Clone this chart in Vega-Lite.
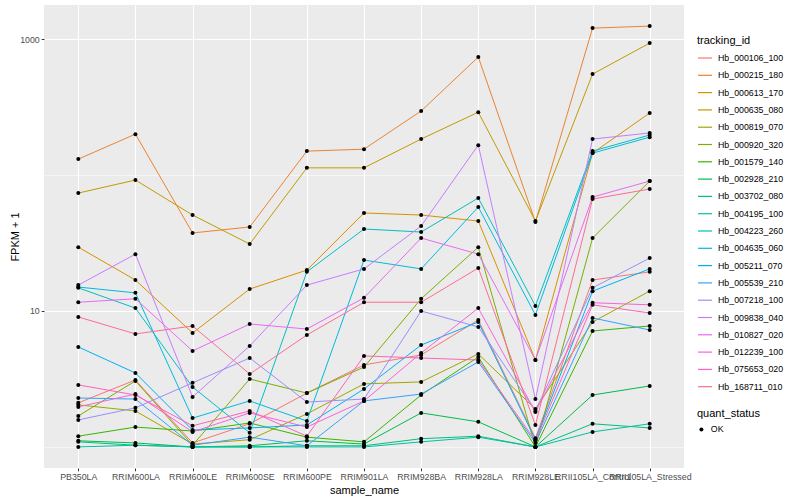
{
"$schema": "https://vega.github.io/schema/vega-lite/v6.json",
"width": 640, "height": 463,
"autosize": {"type": "none"},
"padding": {"left": 44, "top": 5, "right": 116, "bottom": 32},
"background": "white",
"config": {
  "font": "Liberation Sans",
  "view": {"fill": "#EBEBEB", "stroke": null}
},
"data": {"values": [
{"tracking_id":"Hb_000106_100","sample_name":"PB350LA","fpkm_plus_1":2.11,"quant_status":"OK"},
{"tracking_id":"Hb_000106_100","sample_name":"RRIM600LA","fpkm_plus_1":3.11,"quant_status":"OK"},
{"tracking_id":"Hb_000106_100","sample_name":"RRIM600LE","fpkm_plus_1":1.07,"quant_status":"OK"},
{"tracking_id":"Hb_000106_100","sample_name":"RRIM600SE","fpkm_plus_1":1.48,"quant_status":"OK"},
{"tracking_id":"Hb_000106_100","sample_name":"RRIM600PE","fpkm_plus_1":2.49,"quant_status":"OK"},
{"tracking_id":"Hb_000106_100","sample_name":"RRIM901LA","fpkm_plus_1":4.01,"quant_status":"OK"},
{"tracking_id":"Hb_000106_100","sample_name":"RRIM928BA","fpkm_plus_1":4.75,"quant_status":"OK"},
{"tracking_id":"Hb_000106_100","sample_name":"RRIM928LA","fpkm_plus_1":8.59,"quant_status":"OK"},
{"tracking_id":"Hb_000106_100","sample_name":"RRIM928LE","fpkm_plus_1":1.16,"quant_status":"OK"},
{"tracking_id":"Hb_000106_100","sample_name":"RRII105LA_Control","fpkm_plus_1":16.9,"quant_status":"OK"},
{"tracking_id":"Hb_000106_100","sample_name":"RRII105LA_Stressed","fpkm_plus_1":19.4,"quant_status":"OK"},
{"tracking_id":"Hb_000215_180","sample_name":"PB350LA","fpkm_plus_1":131,"quant_status":"OK"},
{"tracking_id":"Hb_000215_180","sample_name":"RRIM600LA","fpkm_plus_1":200,"quant_status":"OK"},
{"tracking_id":"Hb_000215_180","sample_name":"RRIM600LE","fpkm_plus_1":37.5,"quant_status":"OK"},
{"tracking_id":"Hb_000215_180","sample_name":"RRIM600SE","fpkm_plus_1":41.5,"quant_status":"OK"},
{"tracking_id":"Hb_000215_180","sample_name":"RRIM600PE","fpkm_plus_1":150,"quant_status":"OK"},
{"tracking_id":"Hb_000215_180","sample_name":"RRIM901LA","fpkm_plus_1":155,"quant_status":"OK"},
{"tracking_id":"Hb_000215_180","sample_name":"RRIM928BA","fpkm_plus_1":296,"quant_status":"OK"},
{"tracking_id":"Hb_000215_180","sample_name":"RRIM928LA","fpkm_plus_1":738,"quant_status":"OK"},
{"tracking_id":"Hb_000215_180","sample_name":"RRIM928LE","fpkm_plus_1":45.1,"quant_status":"OK"},
{"tracking_id":"Hb_000215_180","sample_name":"RRII105LA_Control","fpkm_plus_1":1205,"quant_status":"OK"},
{"tracking_id":"Hb_000215_180","sample_name":"RRII105LA_Stressed","fpkm_plus_1":1246,"quant_status":"OK"},
{"tracking_id":"Hb_000613_170","sample_name":"PB350LA","fpkm_plus_1":29.5,"quant_status":"OK"},
{"tracking_id":"Hb_000613_170","sample_name":"RRIM600LA","fpkm_plus_1":16.9,"quant_status":"OK"},
{"tracking_id":"Hb_000613_170","sample_name":"RRIM600LE","fpkm_plus_1":6.89,"quant_status":"OK"},
{"tracking_id":"Hb_000613_170","sample_name":"RRIM600SE","fpkm_plus_1":14.5,"quant_status":"OK"},
{"tracking_id":"Hb_000613_170","sample_name":"RRIM600PE","fpkm_plus_1":20.0,"quant_status":"OK"},
{"tracking_id":"Hb_000613_170","sample_name":"RRIM901LA","fpkm_plus_1":52.6,"quant_status":"OK"},
{"tracking_id":"Hb_000613_170","sample_name":"RRIM928BA","fpkm_plus_1":50.8,"quant_status":"OK"},
{"tracking_id":"Hb_000613_170","sample_name":"RRIM928LA","fpkm_plus_1":45.9,"quant_status":"OK"},
{"tracking_id":"Hb_000613_170","sample_name":"RRIM928LE","fpkm_plus_1":4.36,"quant_status":"OK"},
{"tracking_id":"Hb_000613_170","sample_name":"RRII105LA_Control","fpkm_plus_1":145,"quant_status":"OK"},
{"tracking_id":"Hb_000613_170","sample_name":"RRII105LA_Stressed","fpkm_plus_1":286,"quant_status":"OK"},
{"tracking_id":"Hb_000635_080","sample_name":"PB350LA","fpkm_plus_1":73.7,"quant_status":"OK"},
{"tracking_id":"Hb_000635_080","sample_name":"RRIM600LA","fpkm_plus_1":91.9,"quant_status":"OK"},
{"tracking_id":"Hb_000635_080","sample_name":"RRIM600LE","fpkm_plus_1":50.8,"quant_status":"OK"},
{"tracking_id":"Hb_000635_080","sample_name":"RRIM600SE","fpkm_plus_1":31.1,"quant_status":"OK"},
{"tracking_id":"Hb_000635_080","sample_name":"RRIM600PE","fpkm_plus_1":113,"quant_status":"OK"},
{"tracking_id":"Hb_000635_080","sample_name":"RRIM901LA","fpkm_plus_1":113,"quant_status":"OK"},
{"tracking_id":"Hb_000635_080","sample_name":"RRIM928BA","fpkm_plus_1":184,"quant_status":"OK"},
{"tracking_id":"Hb_000635_080","sample_name":"RRIM928LA","fpkm_plus_1":290,"quant_status":"OK"},
{"tracking_id":"Hb_000635_080","sample_name":"RRIM928LE","fpkm_plus_1":45.9,"quant_status":"OK"},
{"tracking_id":"Hb_000635_080","sample_name":"RRII105LA_Control","fpkm_plus_1":553,"quant_status":"OK"},
{"tracking_id":"Hb_000635_080","sample_name":"RRII105LA_Stressed","fpkm_plus_1":935,"quant_status":"OK"},
{"tracking_id":"Hb_000819_070","sample_name":"PB350LA","fpkm_plus_1":2.04,"quant_status":"OK"},
{"tracking_id":"Hb_000819_070","sample_name":"RRIM600LA","fpkm_plus_1":1.84,"quant_status":"OK"},
{"tracking_id":"Hb_000819_070","sample_name":"RRIM600LE","fpkm_plus_1":1.05,"quant_status":"OK"},
{"tracking_id":"Hb_000819_070","sample_name":"RRIM600SE","fpkm_plus_1":1.13,"quant_status":"OK"},
{"tracking_id":"Hb_000819_070","sample_name":"RRIM600PE","fpkm_plus_1":1.75,"quant_status":"OK"},
{"tracking_id":"Hb_000819_070","sample_name":"RRIM901LA","fpkm_plus_1":2.91,"quant_status":"OK"},
{"tracking_id":"Hb_000819_070","sample_name":"RRIM928BA","fpkm_plus_1":3.01,"quant_status":"OK"},
{"tracking_id":"Hb_000819_070","sample_name":"RRIM928LA","fpkm_plus_1":4.83,"quant_status":"OK"},
{"tracking_id":"Hb_000819_070","sample_name":"RRIM928LE","fpkm_plus_1":1.90,"quant_status":"OK"},
{"tracking_id":"Hb_000819_070","sample_name":"RRII105LA_Control","fpkm_plus_1":8.30,"quant_status":"OK"},
{"tracking_id":"Hb_000819_070","sample_name":"RRII105LA_Stressed","fpkm_plus_1":14.0,"quant_status":"OK"},
{"tracking_id":"Hb_000920_320","sample_name":"PB350LA","fpkm_plus_1":1.69,"quant_status":"OK"},
{"tracking_id":"Hb_000920_320","sample_name":"RRIM600LA","fpkm_plus_1":3.06,"quant_status":"OK"},
{"tracking_id":"Hb_000920_320","sample_name":"RRIM600LE","fpkm_plus_1":1.03,"quant_status":"OK"},
{"tracking_id":"Hb_000920_320","sample_name":"RRIM600SE","fpkm_plus_1":3.16,"quant_status":"OK"},
{"tracking_id":"Hb_000920_320","sample_name":"RRIM600PE","fpkm_plus_1":2.49,"quant_status":"OK"},
{"tracking_id":"Hb_000920_320","sample_name":"RRIM901LA","fpkm_plus_1":3.87,"quant_status":"OK"},
{"tracking_id":"Hb_000920_320","sample_name":"RRIM928BA","fpkm_plus_1":12.3,"quant_status":"OK"},
{"tracking_id":"Hb_000920_320","sample_name":"RRIM928LA","fpkm_plus_1":29.5,"quant_status":"OK"},
{"tracking_id":"Hb_000920_320","sample_name":"RRIM928LE","fpkm_plus_1":1.0,"quant_status":"OK"},
{"tracking_id":"Hb_000920_320","sample_name":"RRII105LA_Control","fpkm_plus_1":34.4,"quant_status":"OK"},
{"tracking_id":"Hb_000920_320","sample_name":"RRII105LA_Stressed","fpkm_plus_1":90.3,"quant_status":"OK"},
{"tracking_id":"Hb_001579_140","sample_name":"PB350LA","fpkm_plus_1":1.20,"quant_status":"OK"},
{"tracking_id":"Hb_001579_140","sample_name":"RRIM600LA","fpkm_plus_1":1.40,"quant_status":"OK"},
{"tracking_id":"Hb_001579_140","sample_name":"RRIM600LE","fpkm_plus_1":1.31,"quant_status":"OK"},
{"tracking_id":"Hb_001579_140","sample_name":"RRIM600SE","fpkm_plus_1":1.50,"quant_status":"OK"},
{"tracking_id":"Hb_001579_140","sample_name":"RRIM600PE","fpkm_plus_1":1.18,"quant_status":"OK"},
{"tracking_id":"Hb_001579_140","sample_name":"RRIM901LA","fpkm_plus_1":1.09,"quant_status":"OK"},
{"tracking_id":"Hb_001579_140","sample_name":"RRIM928BA","fpkm_plus_1":2.41,"quant_status":"OK"},
{"tracking_id":"Hb_001579_140","sample_name":"RRIM928LA","fpkm_plus_1":4.59,"quant_status":"OK"},
{"tracking_id":"Hb_001579_140","sample_name":"RRIM928LE","fpkm_plus_1":1.0,"quant_status":"OK"},
{"tracking_id":"Hb_001579_140","sample_name":"RRII105LA_Control","fpkm_plus_1":7.13,"quant_status":"OK"},
{"tracking_id":"Hb_001579_140","sample_name":"RRII105LA_Stressed","fpkm_plus_1":7.76,"quant_status":"OK"},
{"tracking_id":"Hb_002928_210","sample_name":"PB350LA","fpkm_plus_1":1.11,"quant_status":"OK"},
{"tracking_id":"Hb_002928_210","sample_name":"RRIM600LA","fpkm_plus_1":1.07,"quant_status":"OK"},
{"tracking_id":"Hb_002928_210","sample_name":"RRIM600LE","fpkm_plus_1":1.0,"quant_status":"OK"},
{"tracking_id":"Hb_002928_210","sample_name":"RRIM600SE","fpkm_plus_1":1.02,"quant_status":"OK"},
{"tracking_id":"Hb_002928_210","sample_name":"RRIM600PE","fpkm_plus_1":1.11,"quant_status":"OK"},
{"tracking_id":"Hb_002928_210","sample_name":"RRIM901LA","fpkm_plus_1":1.05,"quant_status":"OK"},
{"tracking_id":"Hb_002928_210","sample_name":"RRIM928BA","fpkm_plus_1":1.78,"quant_status":"OK"},
{"tracking_id":"Hb_002928_210","sample_name":"RRIM928LA","fpkm_plus_1":1.53,"quant_status":"OK"},
{"tracking_id":"Hb_002928_210","sample_name":"RRIM928LE","fpkm_plus_1":1.0,"quant_status":"OK"},
{"tracking_id":"Hb_002928_210","sample_name":"RRII105LA_Control","fpkm_plus_1":2.41,"quant_status":"OK"},
{"tracking_id":"Hb_002928_210","sample_name":"RRII105LA_Stressed","fpkm_plus_1":2.81,"quant_status":"OK"},
{"tracking_id":"Hb_003702_080","sample_name":"PB350LA","fpkm_plus_1":1.09,"quant_status":"OK"},
{"tracking_id":"Hb_003702_080","sample_name":"RRIM600LA","fpkm_plus_1":1.03,"quant_status":"OK"},
{"tracking_id":"Hb_003702_080","sample_name":"RRIM600LE","fpkm_plus_1":1.0,"quant_status":"OK"},
{"tracking_id":"Hb_003702_080","sample_name":"RRIM600SE","fpkm_plus_1":1.0,"quant_status":"OK"},
{"tracking_id":"Hb_003702_080","sample_name":"RRIM600PE","fpkm_plus_1":1.02,"quant_status":"OK"},
{"tracking_id":"Hb_003702_080","sample_name":"RRIM901LA","fpkm_plus_1":1.02,"quant_status":"OK"},
{"tracking_id":"Hb_003702_080","sample_name":"RRIM928BA","fpkm_plus_1":1.15,"quant_status":"OK"},
{"tracking_id":"Hb_003702_080","sample_name":"RRIM928LA","fpkm_plus_1":1.20,"quant_status":"OK"},
{"tracking_id":"Hb_003702_080","sample_name":"RRIM928LE","fpkm_plus_1":1.0,"quant_status":"OK"},
{"tracking_id":"Hb_003702_080","sample_name":"RRII105LA_Control","fpkm_plus_1":1.48,"quant_status":"OK"},
{"tracking_id":"Hb_003702_080","sample_name":"RRII105LA_Stressed","fpkm_plus_1":1.38,"quant_status":"OK"},
{"tracking_id":"Hb_004195_100","sample_name":"PB350LA","fpkm_plus_1":1.0,"quant_status":"OK"},
{"tracking_id":"Hb_004195_100","sample_name":"RRIM600LA","fpkm_plus_1":1.03,"quant_status":"OK"},
{"tracking_id":"Hb_004195_100","sample_name":"RRIM600LE","fpkm_plus_1":1.0,"quant_status":"OK"},
{"tracking_id":"Hb_004195_100","sample_name":"RRIM600SE","fpkm_plus_1":1.0,"quant_status":"OK"},
{"tracking_id":"Hb_004195_100","sample_name":"RRIM600PE","fpkm_plus_1":1.0,"quant_status":"OK"},
{"tracking_id":"Hb_004195_100","sample_name":"RRIM901LA","fpkm_plus_1":1.0,"quant_status":"OK"},
{"tracking_id":"Hb_004195_100","sample_name":"RRIM928BA","fpkm_plus_1":1.09,"quant_status":"OK"},
{"tracking_id":"Hb_004195_100","sample_name":"RRIM928LA","fpkm_plus_1":1.18,"quant_status":"OK"},
{"tracking_id":"Hb_004195_100","sample_name":"RRIM928LE","fpkm_plus_1":1.0,"quant_status":"OK"},
{"tracking_id":"Hb_004195_100","sample_name":"RRII105LA_Control","fpkm_plus_1":1.29,"quant_status":"OK"},
{"tracking_id":"Hb_004195_100","sample_name":"RRII105LA_Stressed","fpkm_plus_1":1.48,"quant_status":"OK"},
{"tracking_id":"Hb_004223_260","sample_name":"PB350LA","fpkm_plus_1":14.8,"quant_status":"OK"},
{"tracking_id":"Hb_004223_260","sample_name":"RRIM600LA","fpkm_plus_1":10.5,"quant_status":"OK"},
{"tracking_id":"Hb_004223_260","sample_name":"RRIM600LE","fpkm_plus_1":2.76,"quant_status":"OK"},
{"tracking_id":"Hb_004223_260","sample_name":"RRIM600SE","fpkm_plus_1":1.27,"quant_status":"OK"},
{"tracking_id":"Hb_004223_260","sample_name":"RRIM600PE","fpkm_plus_1":19.4,"quant_status":"OK"},
{"tracking_id":"Hb_004223_260","sample_name":"RRIM901LA","fpkm_plus_1":40.1,"quant_status":"OK"},
{"tracking_id":"Hb_004223_260","sample_name":"RRIM928BA","fpkm_plus_1":38.1,"quant_status":"OK"},
{"tracking_id":"Hb_004223_260","sample_name":"RRIM928LA","fpkm_plus_1":67.8,"quant_status":"OK"},
{"tracking_id":"Hb_004223_260","sample_name":"RRIM928LE","fpkm_plus_1":10.9,"quant_status":"OK"},
{"tracking_id":"Hb_004223_260","sample_name":"RRII105LA_Control","fpkm_plus_1":150,"quant_status":"OK"},
{"tracking_id":"Hb_004223_260","sample_name":"RRII105LA_Stressed","fpkm_plus_1":197,"quant_status":"OK"},
{"tracking_id":"Hb_004635_060","sample_name":"PB350LA","fpkm_plus_1":15.0,"quant_status":"OK"},
{"tracking_id":"Hb_004635_060","sample_name":"RRIM600LA","fpkm_plus_1":13.6,"quant_status":"OK"},
{"tracking_id":"Hb_004635_060","sample_name":"RRIM600LE","fpkm_plus_1":1.63,"quant_status":"OK"},
{"tracking_id":"Hb_004635_060","sample_name":"RRIM600SE","fpkm_plus_1":2.18,"quant_status":"OK"},
{"tracking_id":"Hb_004635_060","sample_name":"RRIM600PE","fpkm_plus_1":1.55,"quant_status":"OK"},
{"tracking_id":"Hb_004635_060","sample_name":"RRIM901LA","fpkm_plus_1":23.7,"quant_status":"OK"},
{"tracking_id":"Hb_004635_060","sample_name":"RRIM928BA","fpkm_plus_1":20.4,"quant_status":"OK"},
{"tracking_id":"Hb_004635_060","sample_name":"RRIM928LA","fpkm_plus_1":58.2,"quant_status":"OK"},
{"tracking_id":"Hb_004635_060","sample_name":"RRIM928LE","fpkm_plus_1":9.35,"quant_status":"OK"},
{"tracking_id":"Hb_004635_060","sample_name":"RRII105LA_Control","fpkm_plus_1":145,"quant_status":"OK"},
{"tracking_id":"Hb_004635_060","sample_name":"RRII105LA_Stressed","fpkm_plus_1":190,"quant_status":"OK"},
{"tracking_id":"Hb_005211_070","sample_name":"PB350LA","fpkm_plus_1":5.44,"quant_status":"OK"},
{"tracking_id":"Hb_005211_070","sample_name":"RRIM600LA","fpkm_plus_1":3.50,"quant_status":"OK"},
{"tracking_id":"Hb_005211_070","sample_name":"RRIM600LE","fpkm_plus_1":1.33,"quant_status":"OK"},
{"tracking_id":"Hb_005211_070","sample_name":"RRIM600SE","fpkm_plus_1":1.38,"quant_status":"OK"},
{"tracking_id":"Hb_005211_070","sample_name":"RRIM600PE","fpkm_plus_1":1.45,"quant_status":"OK"},
{"tracking_id":"Hb_005211_070","sample_name":"RRIM901LA","fpkm_plus_1":2.67,"quant_status":"OK"},
{"tracking_id":"Hb_005211_070","sample_name":"RRIM928BA","fpkm_plus_1":5.62,"quant_status":"OK"},
{"tracking_id":"Hb_005211_070","sample_name":"RRIM928LA","fpkm_plus_1":8.30,"quant_status":"OK"},
{"tracking_id":"Hb_005211_070","sample_name":"RRIM928LE","fpkm_plus_1":1.13,"quant_status":"OK"},
{"tracking_id":"Hb_005211_070","sample_name":"RRII105LA_Control","fpkm_plus_1":14.0,"quant_status":"OK"},
{"tracking_id":"Hb_005211_070","sample_name":"RRII105LA_Stressed","fpkm_plus_1":20.4,"quant_status":"OK"},
{"tracking_id":"Hb_005539_210","sample_name":"PB350LA","fpkm_plus_1":2.29,"quant_status":"OK"},
{"tracking_id":"Hb_005539_210","sample_name":"RRIM600LA","fpkm_plus_1":2.25,"quant_status":"OK"},
{"tracking_id":"Hb_005539_210","sample_name":"RRIM600LE","fpkm_plus_1":1.03,"quant_status":"OK"},
{"tracking_id":"Hb_005539_210","sample_name":"RRIM600SE","fpkm_plus_1":1.18,"quant_status":"OK"},
{"tracking_id":"Hb_005539_210","sample_name":"RRIM600PE","fpkm_plus_1":1.02,"quant_status":"OK"},
{"tracking_id":"Hb_005539_210","sample_name":"RRIM901LA","fpkm_plus_1":2.18,"quant_status":"OK"},
{"tracking_id":"Hb_005539_210","sample_name":"RRIM928BA","fpkm_plus_1":2.45,"quant_status":"OK"},
{"tracking_id":"Hb_005539_210","sample_name":"RRIM928LA","fpkm_plus_1":4.22,"quant_status":"OK"},
{"tracking_id":"Hb_005539_210","sample_name":"RRIM928LE","fpkm_plus_1":1.07,"quant_status":"OK"},
{"tracking_id":"Hb_005539_210","sample_name":"RRII105LA_Control","fpkm_plus_1":8.89,"quant_status":"OK"},
{"tracking_id":"Hb_005539_210","sample_name":"RRII105LA_Stressed","fpkm_plus_1":7.25,"quant_status":"OK"},
{"tracking_id":"Hb_007218_100","sample_name":"PB350LA","fpkm_plus_1":1.58,"quant_status":"OK"},
{"tracking_id":"Hb_007218_100","sample_name":"RRIM600LA","fpkm_plus_1":1.94,"quant_status":"OK"},
{"tracking_id":"Hb_007218_100","sample_name":"RRIM600LE","fpkm_plus_1":2.96,"quant_status":"OK"},
{"tracking_id":"Hb_007218_100","sample_name":"RRIM600SE","fpkm_plus_1":4.51,"quant_status":"OK"},
{"tracking_id":"Hb_007218_100","sample_name":"RRIM600PE","fpkm_plus_1":2.14,"quant_status":"OK"},
{"tracking_id":"Hb_007218_100","sample_name":"RRIM901LA","fpkm_plus_1":2.25,"quant_status":"OK"},
{"tracking_id":"Hb_007218_100","sample_name":"RRIM928BA","fpkm_plus_1":10.0,"quant_status":"OK"},
{"tracking_id":"Hb_007218_100","sample_name":"RRIM928LA","fpkm_plus_1":7.63,"quant_status":"OK"},
{"tracking_id":"Hb_007218_100","sample_name":"RRIM928LE","fpkm_plus_1":1.84,"quant_status":"OK"},
{"tracking_id":"Hb_007218_100","sample_name":"RRII105LA_Control","fpkm_plus_1":14.8,"quant_status":"OK"},
{"tracking_id":"Hb_007218_100","sample_name":"RRII105LA_Stressed","fpkm_plus_1":24.5,"quant_status":"OK"},
{"tracking_id":"Hb_009838_040","sample_name":"PB350LA","fpkm_plus_1":15.5,"quant_status":"OK"},
{"tracking_id":"Hb_009838_040","sample_name":"RRIM600LA","fpkm_plus_1":26.2,"quant_status":"OK"},
{"tracking_id":"Hb_009838_040","sample_name":"RRIM600LE","fpkm_plus_1":2.33,"quant_status":"OK"},
{"tracking_id":"Hb_009838_040","sample_name":"RRIM600SE","fpkm_plus_1":5.53,"quant_status":"OK"},
{"tracking_id":"Hb_009838_040","sample_name":"RRIM600PE","fpkm_plus_1":15.5,"quant_status":"OK"},
{"tracking_id":"Hb_009838_040","sample_name":"RRIM901LA","fpkm_plus_1":20.4,"quant_status":"OK"},
{"tracking_id":"Hb_009838_040","sample_name":"RRIM928BA","fpkm_plus_1":42.2,"quant_status":"OK"},
{"tracking_id":"Hb_009838_040","sample_name":"RRIM928LA","fpkm_plus_1":166,"quant_status":"OK"},
{"tracking_id":"Hb_009838_040","sample_name":"RRIM928LE","fpkm_plus_1":2.25,"quant_status":"OK"},
{"tracking_id":"Hb_009838_040","sample_name":"RRII105LA_Control","fpkm_plus_1":184,"quant_status":"OK"},
{"tracking_id":"Hb_009838_040","sample_name":"RRII105LA_Stressed","fpkm_plus_1":204,"quant_status":"OK"},
{"tracking_id":"Hb_010827_020","sample_name":"PB350LA","fpkm_plus_1":11.6,"quant_status":"OK"},
{"tracking_id":"Hb_010827_020","sample_name":"RRIM600LA","fpkm_plus_1":12.3,"quant_status":"OK"},
{"tracking_id":"Hb_010827_020","sample_name":"RRIM600LE","fpkm_plus_1":5.08,"quant_status":"OK"},
{"tracking_id":"Hb_010827_020","sample_name":"RRIM600SE","fpkm_plus_1":8.02,"quant_status":"OK"},
{"tracking_id":"Hb_010827_020","sample_name":"RRIM600PE","fpkm_plus_1":7.37,"quant_status":"OK"},
{"tracking_id":"Hb_010827_020","sample_name":"RRIM901LA","fpkm_plus_1":12.5,"quant_status":"OK"},
{"tracking_id":"Hb_010827_020","sample_name":"RRIM928BA","fpkm_plus_1":34.4,"quant_status":"OK"},
{"tracking_id":"Hb_010827_020","sample_name":"RRIM928LA","fpkm_plus_1":26.2,"quant_status":"OK"},
{"tracking_id":"Hb_010827_020","sample_name":"RRIM928LE","fpkm_plus_1":4.36,"quant_status":"OK"},
{"tracking_id":"Hb_010827_020","sample_name":"RRII105LA_Control","fpkm_plus_1":68.9,"quant_status":"OK"},
{"tracking_id":"Hb_010827_020","sample_name":"RRII105LA_Stressed","fpkm_plus_1":90.3,"quant_status":"OK"},
{"tracking_id":"Hb_012239_100","sample_name":"PB350LA","fpkm_plus_1":1.97,"quant_status":"OK"},
{"tracking_id":"Hb_012239_100","sample_name":"RRIM600LA","fpkm_plus_1":2.45,"quant_status":"OK"},
{"tracking_id":"Hb_012239_100","sample_name":"RRIM600LE","fpkm_plus_1":1.29,"quant_status":"OK"},
{"tracking_id":"Hb_012239_100","sample_name":"RRIM600SE","fpkm_plus_1":1.78,"quant_status":"OK"},
{"tracking_id":"Hb_012239_100","sample_name":"RRIM600PE","fpkm_plus_1":1.40,"quant_status":"OK"},
{"tracking_id":"Hb_012239_100","sample_name":"RRIM901LA","fpkm_plus_1":2.18,"quant_status":"OK"},
{"tracking_id":"Hb_012239_100","sample_name":"RRIM928BA","fpkm_plus_1":4.91,"quant_status":"OK"},
{"tracking_id":"Hb_012239_100","sample_name":"RRIM928LA","fpkm_plus_1":10.5,"quant_status":"OK"},
{"tracking_id":"Hb_012239_100","sample_name":"RRIM928LE","fpkm_plus_1":1.81,"quant_status":"OK"},
{"tracking_id":"Hb_012239_100","sample_name":"RRII105LA_Control","fpkm_plus_1":11.5,"quant_status":"OK"},
{"tracking_id":"Hb_012239_100","sample_name":"RRII105LA_Stressed","fpkm_plus_1":11.1,"quant_status":"OK"},
{"tracking_id":"Hb_075653_020","sample_name":"PB350LA","fpkm_plus_1":2.86,"quant_status":"OK"},
{"tracking_id":"Hb_075653_020","sample_name":"RRIM600LA","fpkm_plus_1":2.41,"quant_status":"OK"},
{"tracking_id":"Hb_075653_020","sample_name":"RRIM600LE","fpkm_plus_1":1.43,"quant_status":"OK"},
{"tracking_id":"Hb_075653_020","sample_name":"RRIM600SE","fpkm_plus_1":1.84,"quant_status":"OK"},
{"tracking_id":"Hb_075653_020","sample_name":"RRIM600PE","fpkm_plus_1":1.20,"quant_status":"OK"},
{"tracking_id":"Hb_075653_020","sample_name":"RRIM901LA","fpkm_plus_1":4.67,"quant_status":"OK"},
{"tracking_id":"Hb_075653_020","sample_name":"RRIM928BA","fpkm_plus_1":4.51,"quant_status":"OK"},
{"tracking_id":"Hb_075653_020","sample_name":"RRIM928LA","fpkm_plus_1":4.36,"quant_status":"OK"},
{"tracking_id":"Hb_075653_020","sample_name":"RRIM928LE","fpkm_plus_1":1.11,"quant_status":"OK"},
{"tracking_id":"Hb_075653_020","sample_name":"RRII105LA_Control","fpkm_plus_1":11.1,"quant_status":"OK"},
{"tracking_id":"Hb_075653_020","sample_name":"RRII105LA_Stressed","fpkm_plus_1":9.67,"quant_status":"OK"},
{"tracking_id":"Hb_168711_010","sample_name":"PB350LA","fpkm_plus_1":9.04,"quant_status":"OK"},
{"tracking_id":"Hb_168711_010","sample_name":"RRIM600LA","fpkm_plus_1":6.78,"quant_status":"OK"},
{"tracking_id":"Hb_168711_010","sample_name":"RRIM600LE","fpkm_plus_1":7.76,"quant_status":"OK"},
{"tracking_id":"Hb_168711_010","sample_name":"RRIM600SE","fpkm_plus_1":3.44,"quant_status":"OK"},
{"tracking_id":"Hb_168711_010","sample_name":"RRIM600PE","fpkm_plus_1":6.66,"quant_status":"OK"},
{"tracking_id":"Hb_168711_010","sample_name":"RRIM901LA","fpkm_plus_1":11.6,"quant_status":"OK"},
{"tracking_id":"Hb_168711_010","sample_name":"RRIM928BA","fpkm_plus_1":11.6,"quant_status":"OK"},
{"tracking_id":"Hb_168711_010","sample_name":"RRIM928LA","fpkm_plus_1":20.7,"quant_status":"OK"},
{"tracking_id":"Hb_168711_010","sample_name":"RRIM928LE","fpkm_plus_1":1.45,"quant_status":"OK"},
{"tracking_id":"Hb_168711_010","sample_name":"RRII105LA_Control","fpkm_plus_1":66.6,"quant_status":"OK"},
{"tracking_id":"Hb_168711_010","sample_name":"RRII105LA_Stressed","fpkm_plus_1":78.9,"quant_status":"OK"}
]},
"encoding": {
  "x": {"field": "sample_name", "type": "ordinal",
    "sort": ["PB350LA","RRIM600LA","RRIM600LE","RRIM600SE","RRIM600PE","RRIM901LA","RRIM928BA","RRIM928LA","RRIM928LE","RRII105LA_Control","RRII105LA_Stressed"],
    "scale": {"type": "point", "padding": 0.6},
    "axis": {"title": "sample_name", "titleFontSize": 11, "titleFontWeight": "normal", "titleColor": "black", "titlePadding": 3,
      "labelFontSize": 8.8, "labelColor": "#4D4D4D", "labelAngle": 0, "labelOverlap": false, "labelPadding": 2,
      "tickColor": "#333333", "tickSize": 2.75, "tickWidth": 1, "domain": false,
      "grid": true, "gridColor": "white", "gridWidth": 1.1}},
  "y": {"field": "fpkm_plus_1", "type": "quantitative",
    "scale": {"type": "log", "domain": [0.7, 1782], "nice": false},
    "axis": {"title": "FPKM + 1", "titleFontSize": 11, "titleFontWeight": "normal", "titleColor": "black", "titleX": -24, "titleBaseline": "bottom",
      "values": [1, 10, 100, 1000],
      "labelExpr": "datum.value == 10 ? '10' : (datum.value == 1000 ? '1000' : '')",
      "labelFontSize": 8.8, "labelColor": "#4D4D4D", "labelPadding": 2,
      "tickColor": "#333333", "tickSize": 2.75, "tickWidth": 1,
      "tickOpacity": {"condition": {"test": "datum.value == 1 || datum.value == 100", "value": 0}, "value": 1},
      "domain": false, "grid": true, "gridColor": "white",
      "gridWidth": {"condition": {"test": "datum.value == 1 || datum.value == 100", "value": 0.55}, "value": 1.1}}}
},
"layer": [
  {"mark": {"type": "line", "strokeWidth": 1},
   "encoding": {
     "color": {"field": "tracking_id", "type": "nominal",
       "scale": {"range": ["#F8766D","#EA8331","#D89000","#C09B00","#A3A500","#7CAE00","#39B600","#00BB4E","#00BF7D","#00C1A3","#00BFC4","#00BAE0","#00B0F6","#35A2FF","#9590FF","#C77CFF","#E76BF3","#FA62DB","#FF62BC","#FF6C91"]},
       "legend": {"title": "tracking_id", "orient": "none", "legendX": 653, "legendY": 30,
         "titleFontSize": 11, "titleFontWeight": "normal", "titleColor": "black", "titlePadding": 4,
         "labelFontSize": 8.8, "labelColor": "black", "labelOffset": 5,
         "symbolType": "stroke", "symbolSize": 196, "symbolStrokeWidth": 1.2, "rowPadding": 4.3}}}},
  {"mark": {"type": "point", "filled": true, "size": 16, "color": "black", "opacity": 1},
   "encoding": {
     "shape": {"field": "quant_status", "type": "nominal", "scale": {"range": ["circle"]},
       "legend": {"title": "quant_status", "orient": "none", "legendX": 653, "legendY": 403,
         "titleFontSize": 11, "titleFontWeight": "normal", "titleColor": "black", "titlePadding": 6,
         "labelFontSize": 8.8, "labelColor": "black", "labelOffset": 5,
         "symbolSize": 16, "symbolFillColor": "black", "symbolStrokeColor": "black"}}}}
]
}
